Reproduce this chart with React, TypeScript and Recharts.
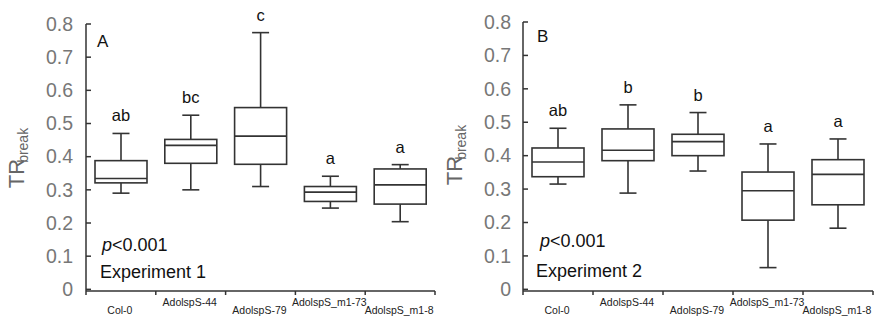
import { ComposedChart, Bar, XAxis, YAxis, Customized } from "recharts";

const categories = ["Col-0", "AdolspS-44", "AdolspS-79", "AdolspS_m1-73", "AdolspS_m1-8"];

// Experiment 1 (panel A)
const exp1Min = [0.29, 0.3, 0.31, 0.245, 0.204];
const exp1Q1 = [0.321, 0.38, 0.377, 0.265, 0.257];
const exp1Median = [0.334, 0.434, 0.462, 0.293, 0.315];
const exp1Q3 = [0.388, 0.452, 0.548, 0.31, 0.363];
const exp1Max = [0.47, 0.525, 0.774, 0.341, 0.376];
const exp1Letters = ["ab", "bc", "c", "a", "a"];

// Experiment 2 (panel B)
const exp2Min = [0.315, 0.288, 0.354, 0.065, 0.183];
const exp2Q1 = [0.337, 0.385, 0.4, 0.207, 0.253];
const exp2Median = [0.381, 0.416, 0.442, 0.295, 0.344];
const exp2Q3 = [0.423, 0.48, 0.464, 0.351, 0.388];
const exp2Max = [0.482, 0.552, 0.529, 0.435, 0.45];
const exp2Letters = ["ab", "b", "b", "a", "a"];

const yTicks = [0, 0.1, 0.2, 0.3, 0.4, 0.5, 0.6, 0.7, 0.8];

const FONT = "'Liberation Sans', Arial, sans-serif";
const LINE = "#333";

type BoxDatum = {
    name: string;
    min: number;
    q1: number;
    median: number;
    q3: number;
    max: number;
    letter: string;
};

function buildData(mins: number[], q1s: number[], meds: number[], q3s: number[], maxs: number[], letters: string[]): BoxDatum[] {
    return categories.map((name, i) => ({
        name,
        min: mins[i],
        q1: q1s[i],
        median: meds[i],
        q3: q3s[i],
        max: maxs[i],
        letter: letters[i],
    }));
}

const data1 = buildData(exp1Min, exp1Q1, exp1Median, exp1Q3, exp1Max, exp1Letters);
const data2 = buildData(exp2Min, exp2Q1, exp2Median, exp2Q3, exp2Max, exp2Letters);

// Box + whiskers drawn from the range bar [min, max] that the y scale placed
function BoxShape(props: any) {
    const { x, y, width, height, payload } = props;
    const d: BoxDatum = payload;
    const px = (v: number) => y + (height * (d.max - v)) / (d.max - d.min);
    const cx = x + width / 2;
    const cap = 8.5;
    const yMax = px(d.max);
    const yQ3 = px(d.q3);
    const yMed = px(d.median);
    const yQ1 = px(d.q1);
    const yMin = px(d.min);
    return (
        <g stroke={LINE} strokeWidth={1.6} fill="none">
            <line x1={cx} x2={cx} y1={yMax} y2={yQ3} />
            <line x1={cx - cap} x2={cx + cap} y1={yMax} y2={yMax} />
            <line x1={cx} x2={cx} y1={yQ1} y2={yMin} />
            <line x1={cx - cap} x2={cx + cap} y1={yMin} y2={yMin} />
            <rect x={x} y={yQ3} width={width} height={yQ1 - yQ3} fill="#fff" />
            <line x1={x} x2={x + width} y1={yMed} y2={yMed} />
            <text x={cx} y={yMax - 12} textAnchor="middle" fontSize={16.5} fill="#111" stroke="none" fontFamily={FONT}>
                {d.letter}
            </text>
        </g>
    );
}

function makeXTick(bandWidth: number) {
    return (props: any) => {
        const { x, y, payload, index } = props;
        const low = index % 2 === 0;
        const half = bandWidth / 2;
        return (
            <g>
                <line x1={x - half} x2={x - half} y1={y} y2={y + 4} stroke={LINE} strokeWidth={1.5} />
                {index === categories.length - 1 && (
                    <line x1={x + half} x2={x + half} y1={y} y2={y + 4} stroke={LINE} strokeWidth={1.5} />
                )}
                <text x={x - 1} y={y + (low ? 23 : 15)} textAnchor="middle" fontSize={10.5} fill="#222" fontFamily={FONT}>
                    {payload.value}
                </text>
            </g>
        );
    };
}

function makeYTick(gap: number) {
    return (props: any) => {
        const { x, y, payload } = props;
        const v: number = payload.value;
        return (
            <g>
                <line x1={x + gap} x2={x + gap + 5} y1={y} y2={y} stroke={LINE} strokeWidth={1.5} />
                <text x={x} y={y} dy="0.35em" textAnchor="end" fontSize={19.5} fill="#777" fontFamily={FONT}>
                    {v === 0 ? "0" : v.toFixed(1)}
                </text>
            </g>
        );
    };
}

type PanelProps = {
    data: BoxDatum[];
    width: number;
    yWidth: number;
    top: number;
    right: number;
    gap: number;
    letter: string;
    experiment: string;
    letterPos: [number, number];
    pPos: [number, number];
    expPos: [number, number];
    titlePos: [number, number];
};

function Panel(p: PanelProps) {
    const bandWidth = (p.width - p.yWidth - p.right) / categories.length;
    const Annotations = () => (
        <g fontFamily={FONT}>
            <text
                transform={`rotate(-90, ${p.titlePos[0]}, ${p.titlePos[1]})`}
                x={p.titlePos[0]}
                y={p.titlePos[1]}
                textAnchor="middle"
                fill="#666"
                fontSize={22}
            >
                TR
                <tspan dx={-4} dy={4} fontSize={14}>
                    break
                </tspan>
            </text>
            <text x={p.letterPos[0]} y={p.letterPos[1]} fontSize={17} fill="#111">
                {p.letter}
            </text>
            <text x={p.pPos[0]} y={p.pPos[1]} fontSize={18} fill="#111">
                <tspan fontStyle="italic">p</tspan>
                {"<0.001"}
            </text>
            <text x={p.expPos[0]} y={p.expPos[1]} fontSize={18} fill="#111">
                {p.experiment}
            </text>
        </g>
    );
    return (
        <ComposedChart
            width={p.width}
            height={317}
            data={p.data}
            margin={{ top: p.top, right: p.right, bottom: 0, left: 0 }}
        >
            <XAxis
                dataKey="name"
                height={26}
                interval={0}
                tickLine={false}
                tickSize={0}
                tickMargin={0}
                axisLine={{ stroke: LINE, strokeWidth: 1.5 }}
                tick={makeXTick(bandWidth)}
            />
            <YAxis
                width={p.yWidth}
                domain={[-0.005, 0.8]}
                ticks={yTicks}
                tickLine={false}
                tickSize={0}
                tickMargin={p.gap}
                axisLine={{ stroke: LINE, strokeWidth: 1.5 }}
                tick={makeYTick(p.gap)}
            />
            <Bar
                dataKey={(d: BoxDatum) => [d.min, d.max]}
                barSize={52}
                shape={BoxShape}
                isAnimationActive={false}
            />
            <Customized component={Annotations} />
        </ComposedChart>
    );
}

export default function App() {
    return (
        <div
            style={{
                position: "absolute",
                left: 0,
                top: 0,
                width: 879,
                height: 317,
                background: "#fff",
                display: "flex",
                fontFamily: FONT,
            }}
        >
            <Panel
                data={data1}
                width={440}
                yWidth={86}
                top={24}
                right={5}
                gap={13}
                letter="A"
                experiment="Experiment 1"
                letterPos={[97, 46.5]}
                pPos={[102, 251]}
                expPos={[100, 278]}
                titlePos={[24, 158]}
            />
            <Panel
                data={data2}
                width={439}
                yWidth={83}
                top={22}
                right={6}
                gap={12}
                letter="B"
                experiment="Experiment 2"
                letterPos={[97, 41.5]}
                pPos={[100, 247]}
                expPos={[96, 277]}
                titlePos={[22, 155]}
            />
        </div>
    );
}
